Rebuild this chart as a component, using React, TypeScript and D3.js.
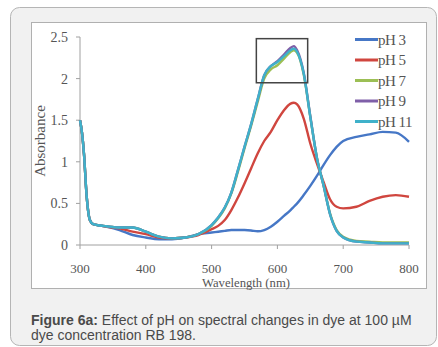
import React from "react";
import * as d3 from "d3";

// wavelengths (nm) shared by every series
const wavelengths = [300, 303, 306, 310, 315, 320, 330, 340, 360, 380, 400, 420, 440, 460, 480, 500, 510, 520, 530, 540, 550, 560, 570, 580, 590, 600, 610, 620, 625, 630, 640, 650, 660, 670, 680, 690, 700, 720, 740, 760, 780, 800];

const ph3 = [1.5, 1.35, 1.1, 0.6, 0.3, 0.25, 0.235, 0.22, 0.18, 0.12, 0.09, 0.07, 0.07, 0.09, 0.13, 0.15, 0.16, 0.17, 0.18, 0.18, 0.18, 0.175, 0.165, 0.18, 0.22, 0.28, 0.35, 0.42, 0.46, 0.5, 0.6, 0.71, 0.83, 0.96, 1.08, 1.18, 1.25, 1.3, 1.33, 1.36, 1.35, 1.24];
const ph5 = [1.5, 1.35, 1.1, 0.6, 0.3, 0.25, 0.235, 0.22, 0.2, 0.16, 0.13, 0.09, 0.08, 0.09, 0.12, 0.19, 0.23, 0.3, 0.42, 0.57, 0.74, 0.92, 1.1, 1.25, 1.36, 1.5, 1.62, 1.7, 1.71, 1.69, 1.52, 1.22, 0.98, 0.76, 0.55, 0.46, 0.44, 0.46, 0.53, 0.58, 0.6, 0.58];
const ph7 = [1.5, 1.35, 1.1, 0.6, 0.3, 0.25, 0.235, 0.225, 0.21, 0.21, 0.16, 0.1, 0.08, 0.09, 0.13, 0.23, 0.32, 0.44, 0.62, 0.88, 1.16, 1.43, 1.72, 2.0, 2.11, 2.16, 2.24, 2.32, 2.34, 2.31, 2.05, 1.54, 1.05, 0.72, 0.38, 0.18, 0.1, 0.05, 0.04, 0.03, 0.03, 0.03];
const ph9 = [1.5, 1.35, 1.1, 0.6, 0.3, 0.25, 0.235, 0.225, 0.21, 0.21, 0.16, 0.1, 0.08, 0.09, 0.13, 0.24, 0.33, 0.45, 0.63, 0.9, 1.18, 1.45, 1.75, 2.04, 2.15, 2.21, 2.29, 2.37, 2.39, 2.34, 2.07, 1.55, 1.05, 0.72, 0.37, 0.17, 0.09, 0.04, 0.03, 0.02, 0.02, 0.02];
const ph11 = [1.5, 1.35, 1.1, 0.6, 0.3, 0.25, 0.235, 0.225, 0.21, 0.21, 0.16, 0.1, 0.08, 0.09, 0.13, 0.24, 0.33, 0.45, 0.63, 0.9, 1.18, 1.45, 1.75, 2.04, 2.15, 2.2, 2.27, 2.34, 2.36, 2.32, 2.06, 1.54, 1.05, 0.72, 0.37, 0.17, 0.09, 0.04, 0.03, 0.02, 0.02, 0.02];

const seriesNames = ["pH 3", "pH 5", "pH 7", "pH 9", "pH 11"];
const seriesValues = [ph3, ph5, ph7, ph9, ph11];
const seriesColors = ["#4677c6", "#d0463f", "#9cbf55", "#7f5fa8", "#3fb1ca"];

const xTicks = [300, 400, 500, 600, 700, 800];
const yTicks = [0, 0.5, 1, 1.5, 2, 2.5];

// highlighted peak region (nm, absorbance)
const boxX = [568, 646];
const boxY = [1.95, 2.48];

const serif = "'Liberation Serif', 'Times New Roman', serif";
const sans = "'Liberation Sans', Arial, sans-serif";

export default function App() {
  const x = d3.scaleLinear().domain([300, 800]).range([80, 409]);
  const y = d3.scaleLinear().domain([0, 2.5]).range([245, 37]);

  const line = d3
    .line<number>()
    .x((_, i) => x(wavelengths[i]))
    .y((d) => y(d))
    .curve(d3.curveMonotoneX);

  return (
    <svg width={438} height={347} style={{ position: "absolute", left: 0, top: 0 }}>
      <rect x={0} y={0} width={438} height={347} fill="#ffffff" />
      {/* card */}
      <rect x={10.5} y={7.5} width={426} height={338} rx={9} fill="#f1f1f1" stroke="#b5b5b5" />
      <rect x={31.5} y={22.5} width={395} height={266} fill="#ffffff" stroke="#b0b0b0" />

      {/* axes */}
      <line x1={x(300)} x2={x(300)} y1={y(0)} y2={y(2.5)} stroke="#a0a0a0" />
      <line x1={x(300)} x2={x(800)} y1={y(0)} y2={y(0)} stroke="#a0a0a0" />
      {yTicks.map((t) => (
        <g key={"y" + t}>
          <line x1={x(300) - 4} x2={x(300)} y1={y(t)} y2={y(t)} stroke="#a0a0a0" />
          <text x={68} y={y(t) + 5} textAnchor="end" fontFamily={serif} fontSize={14} fill="#555">
            {t}
          </text>
        </g>
      ))}
      {xTicks.map((t) => (
        <g key={"x" + t}>
          <line x1={x(t)} x2={x(t)} y1={y(0)} y2={y(0) + 4} stroke="#a0a0a0" />
          <text x={x(t)} y={273} textAnchor="middle" fontFamily={serif} fontSize={13} fill="#555">
            {t}
          </text>
        </g>
      ))}
      <text
        x={246}
        y={287}
        textAnchor="middle"
        fontFamily={serif}
        fontSize={13.5}
        fill="#555"
        textLength={88}
        lengthAdjust="spacingAndGlyphs"
      >
        Wavelength (nm)
      </text>
      <text
        transform={`translate(45, ${y(1.25)}) rotate(-90)`}
        textAnchor="middle"
        fontFamily={serif}
        fontSize={15}
        fill="#555"
      >
        Absorbance
      </text>

      {/* spectra */}
      {seriesValues.map((vals, i) => (
        <path key={seriesNames[i]} d={line(vals) || ""} fill="none" stroke={seriesColors[i]} strokeWidth={2.4} strokeLinejoin="round" />
      ))}

      {/* peak box */}
      <rect
        x={x(boxX[0])}
        y={y(boxY[1])}
        width={x(boxX[1]) - x(boxX[0])}
        height={y(boxY[0]) - y(boxY[1])}
        fill="none"
        stroke="#444"
        strokeWidth={1.5}
      />

      {/* legend */}
      {seriesNames.map((name, i) => (
        <g key={"lg" + name} transform={`translate(355, ${39.5 + i * 20.5})`}>
          <line x1={0} x2={23} y1={0} y2={0} stroke={seriesColors[i]} strokeWidth={3} />
          <text x={23} y={5} fontFamily={serif} fontSize={15} fill="#555" letterSpacing={-0.5}>
            {name}
          </text>
        </g>
      ))}

      {/* caption */}
      <text x={31} y={325} fontFamily={sans} fontSize={14} fill="#4a4a4a">
        <tspan fontWeight="bold">Figure 6a:</tspan> Effect of pH on spectral changes in dye at 100 µM
      </text>
      <text x={31} y={340} fontFamily={sans} fontSize={14} fill="#4a4a4a">
        dye concentration RB 198.
      </text>
    </svg>
  );
}
